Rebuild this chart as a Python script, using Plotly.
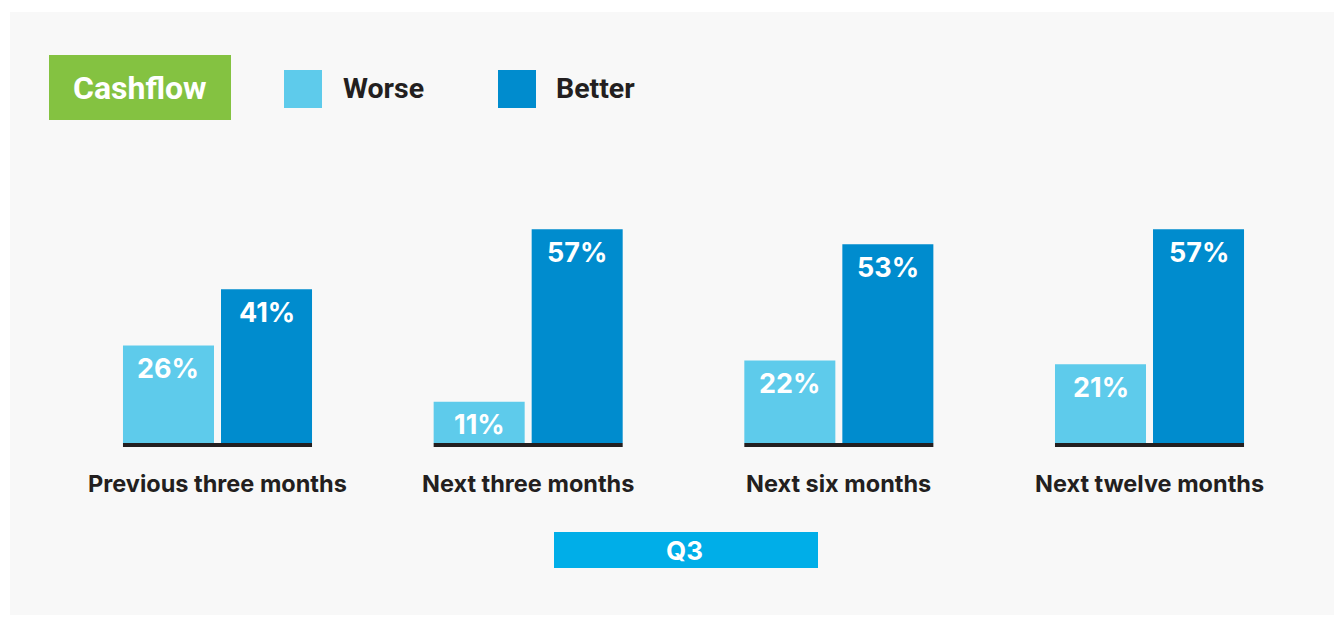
import plotly.graph_objects as go

categories = ["Previous three months", "Next three months", "Next six months", "Next twelve months"]
worse = [26, 11, 22, 21]
better = [41, 57, 53, 57]
series_names = ["Worse", "Better"]
title_label = "Cashflow"
period_label = "Q3"

C_WORSE = "#5ECBEB"
C_BETTER = "#008CCE"
C_GREEN = "#84C241"
C_Q3 = "#00AEE8"
C_TEXT = "#231F20"
BG = "#F8F8F8"

W, H = 1344, 617
L, R, T, B = 10, 10, 12, 2
pw, ph = W - L - R, H - T - B

# axis scaling (pixels)
spacing = 310.67
c0 = 217.5 - L
xr = [(0 - c0) / spacing, (pw - c0) / spacing]
ppu = 3.75
base_px = 443 - T
yr = [-(ph - base_px) / ppu, base_px / ppu]

bargap = 0.369
bargroupgap = 0.0714
slot = (1 - bargap) / 2
offs = [-slot / 2, slot / 2]

xs = list(range(len(categories)))
fig = go.Figure()
for name, vals, col in [(series_names[0], worse, C_WORSE), (series_names[1], better, C_BETTER)]:
    fig.add_trace(go.Bar(x=xs, y=vals, name=name, marker=dict(color=col, line=dict(width=0)),
                         hoverinfo="skip", showlegend=False))

shapes = []
annotations = []
for i, cat in enumerate(categories):
    # baseline under each group (drawn just below the bars)
    shapes.append(dict(type="line", xref="x", yref="y", ysizemode="pixel", yanchor=0,
                       x0=i - slot * (1 - bargroupgap / 2), x1=i + slot * (1 - bargroupgap / 2),
                       y0=-2, y1=-2, line=dict(color="#231F20", width=4), layer="above"))
    for k, vals in enumerate([worse, better]):
        annotations.append(dict(x=i + offs[k], y=vals[i], xref="x", yref="y", text=f"{vals[i]}%",
                                showarrow=False, yanchor="middle", yshift=-23,
                                font=dict(family="Inter", size=27, color="white", weight=700)))
    annotations.append(dict(x=i, y=0, xref="x", yref="y", text=cat, showarrow=False,
                            yanchor="middle", yshift=-40,
                            font=dict(family="Inter", size=23.5, color=C_TEXT, weight=700)))

def px(x):
    return (x - L) / pw

def py(y):
    return (H - B - y) / ph

# title box
shapes.append(dict(type="rect", xref="paper", yref="paper", x0=px(49), x1=px(231), y0=py(120), y1=py(55),
                   fillcolor=C_GREEN, line=dict(width=0)))
annotations.append(dict(xref="paper", yref="paper", x=px(140), y=py(88), text=title_label, showarrow=False,
                        xanchor="center", yanchor="middle",
                        font=dict(family="Roboto", size=32, color="white", weight=700)))
# legend
for (sx, tx, col, name) in [(284, 341, C_WORSE, series_names[0]), (498, 554, C_BETTER, series_names[1])]:
    shapes.append(dict(type="rect", xref="paper", yref="paper", x0=px(sx), x1=px(sx + 38), y0=py(108), y1=py(70),
                       fillcolor=col, line=dict(width=0)))
    annotations.append(dict(xref="paper", yref="paper", x=px(tx), y=py(89), text=name, showarrow=False,
                            xanchor="left", yanchor="middle",
                            font=dict(family="Roboto", size=28.5, color=C_TEXT, weight=700)))
# period box
shapes.append(dict(type="rect", xref="paper", yref="paper", x0=px(554), x1=px(818), y0=py(568), y1=py(532),
                   fillcolor=C_Q3, line=dict(width=0)))
annotations.append(dict(xref="paper", yref="paper", x=px(684), y=py(550), text=period_label, showarrow=False,
                        xanchor="center", yanchor="middle",
                        font=dict(family="Inter", size=26, color="white", weight=700)))

fig.update_layout(
    width=W, height=H, margin=dict(l=L, r=R, t=T, b=B, pad=0),
    paper_bgcolor="white", plot_bgcolor=BG,
    barmode="group", bargap=bargap, bargroupgap=bargroupgap,
    xaxis=dict(range=xr, showticklabels=False, showgrid=False, zeroline=False, fixedrange=True),
    yaxis=dict(range=yr, showticklabels=False, showgrid=False, zeroline=False, fixedrange=True),
    shapes=shapes, annotations=annotations, showlegend=False,
)

fig.write_html("out.html", config={"displayModeBar": False},
               post_script="document.body.style.margin='0';document.body.style.overflow='hidden';")
